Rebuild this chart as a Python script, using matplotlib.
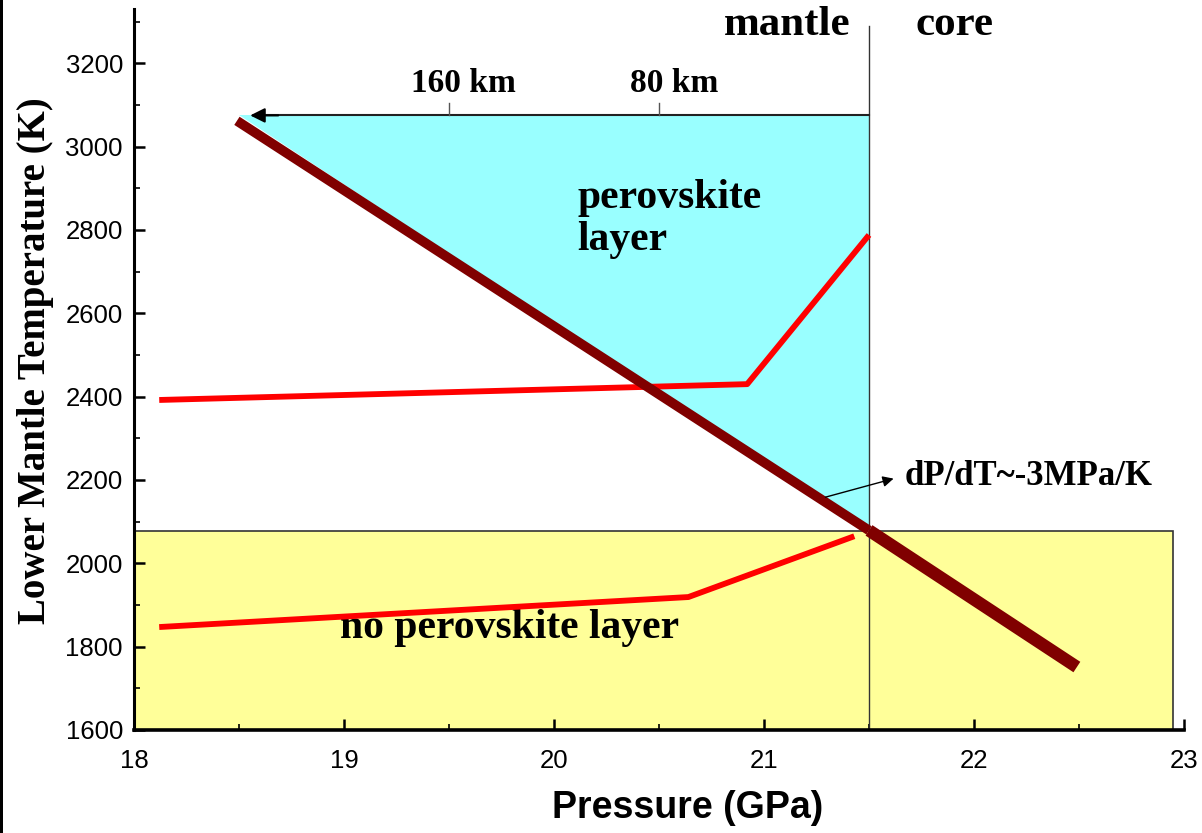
import matplotlib.pyplot as plt
from matplotlib.patches import Rectangle, Polygon
from matplotlib.ticker import MultipleLocator

# clapeyron slope of the perovskite transition, (P GPa, T K)
slope_p = [18.49, 21.5, 22.49]
slope_t = [3062, 2079, 1751]

# geotherms (red)
upper_p = [18.12, 20.92, 21.50]
upper_t = [2392, 2430, 2788]
lower_p = [18.12, 20.64, 21.43]
lower_t = [1847, 1919, 2065]

# regions
cmb_p = 21.5
top_t = 3075
tri_left_p = 18.5
no_pv_t = 2078
no_pv_right = 22.95

# depth markers along the top arrow
depth_p = [19.5, 20.5]
depth_labels = ['160 km', '80 km']

serif = 'Liberation Serif'
sans = 'Liberation Sans'

fig = plt.figure(figsize=(12.02, 8.33), dpi=100)
ax = fig.add_axes([0.1115, 0.1237, 0.8735, 0.8653])
ax.set_xlim(18, 23)
ax.set_ylim(1600, 3330)

# no perovskite layer box
ax.add_patch(Rectangle((18, 1600), no_pv_right - 18, no_pv_t - 1600,
                       facecolor='#ffff99', edgecolor='#333333', lw=1.2, zorder=1))
# perovskite layer triangle
ax.add_patch(Polygon([(tri_left_p, top_t), (cmb_p, top_t), (cmb_p, no_pv_t)],
                     closed=True, facecolor='#99ffff', edgecolor='none', zorder=1))

# mantle/core boundary
ax.plot([cmb_p, cmb_p], [1600, 3290], color='#333333', lw=1.0, zorder=2)

# top arrow with depth ticks
ax.plot([18.6, cmb_p], [top_t, top_t], color='#222222', lw=1.5, zorder=3)
ax.annotate('', xy=(18.54, top_t), xytext=(18.7, top_t),
            arrowprops=dict(arrowstyle='-|>', color='black', lw=1.5,
                            mutation_scale=22), zorder=4)
for p, lab in zip(depth_p, depth_labels):
    ax.plot([p, p], [top_t, top_t + 30], color='#555555', lw=1.0, zorder=3)
    ax.text(p + 0.07, top_t + 40, lab, ha='center', va='bottom',
            fontsize=24, fontweight='bold', family=serif)

# geotherms
ax.plot(upper_p, upper_t, color='#ff0000', lw=4.2, zorder=5, solid_capstyle='butt')
ax.plot(lower_p, lower_t, color='#ff0000', lw=4.2, zorder=5, solid_capstyle='butt')

# phase boundary, thicker below the CMB
ax.plot(slope_p[:2], slope_t[:2], color='#800000', lw=7, zorder=6, solid_capstyle='butt')
ax.plot(slope_p[1:], slope_t[1:], color='#800000', lw=9, zorder=6, solid_capstyle='butt')

# labels
ax.text(21.41, 3268, 'mantle', ha='right', va='baseline', fontsize=31,
        fontweight='bold', family=serif)
ax.text(21.72, 3268, 'core', ha='left', va='baseline', fontsize=31,
        fontweight='bold', family=serif)
ax.text(20.11, 2853, 'perovskite', ha='left', va='baseline', fontsize=30,
        fontweight='bold', family=serif)
ax.text(20.11, 2752, 'layer', ha='left', va='baseline', fontsize=30,
        fontweight='bold', family=serif)
ax.text(18.98, 1821, 'no perovskite layer', ha='left', va='baseline', fontsize=30,
        fontweight='bold', family=serif)
ax.text(21.67, 2188, 'dP/dT~-3MPa/K', ha='left', va='baseline', fontsize=25,
        fontweight='bold', family=serif, zorder=7)
ax.annotate('', xy=(21.63, 2205), xytext=(21.28, 2157),
            arrowprops=dict(arrowstyle='-|>', color='black', lw=1.0,
                            mutation_scale=16), zorder=7)

# axes styling
for s in ['top', 'right']:
    ax.spines[s].set_visible(False)
ax.spines['left'].set_linewidth(2.2)
ax.spines['bottom'].set_linewidth(2.6)
ax.xaxis.set_major_locator(MultipleLocator(1))
ax.xaxis.set_minor_locator(MultipleLocator(0.5))
ax.yaxis.set_major_locator(MultipleLocator(200))
ax.yaxis.set_minor_locator(MultipleLocator(100))
ax.tick_params(which='major', direction='in', length=8, width=1.8, labelsize=18.5)
ax.tick_params(axis='x', which='major', pad=14)
ax.tick_params(axis='y', which='major', pad=8)
ax.tick_params(which='minor', direction='in', length=4, width=1.2)
ax.set_xticks([18, 19, 20, 21, 22, 23])
ax.set_yticks(range(1600, 3201, 200))
for lab in ax.get_xticklabels() + ax.get_yticklabels():
    lab.set_family(sans)

ax.set_xlabel('Pressure (GPa)', fontsize=27, fontweight='bold', family=sans,
              labelpad=12)
ax.xaxis.label.set_x(0.5276)
ax.set_ylabel('Lower Mantle Temperature (K)', fontsize=28, fontweight='bold',
              family=serif, labelpad=8)
ax.yaxis.label.set_y(0.512)

# dark strip along the left edge
fig.patches.append(Rectangle((0, 0), 3 / 1202, 1, transform=fig.transFigure,
                             facecolor='black', edgecolor='none'))

fig.savefig('out.png', dpi=100)
